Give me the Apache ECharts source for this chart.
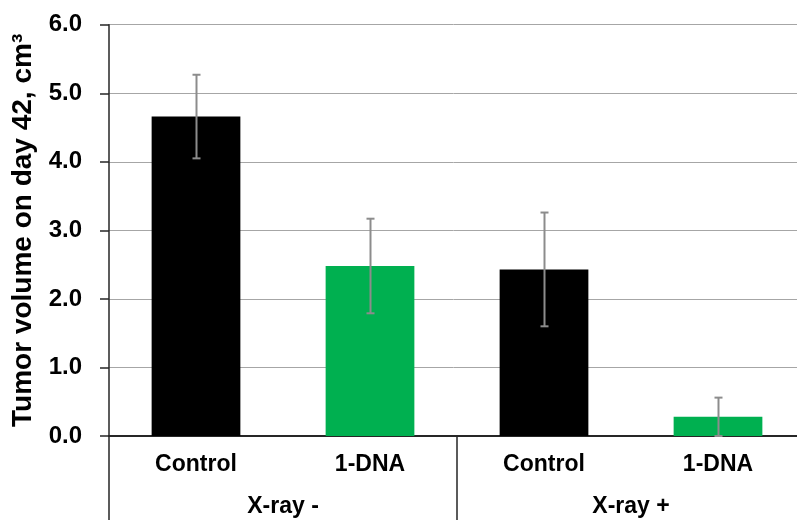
<!DOCTYPE html>
<html><head><meta charset="utf-8">
<script src="https://cdn.jsdelivr.net/npm/echarts@6/dist/echarts.min.js"></script>
<style>html,body{margin:0;padding:0;background:#fff}#c{width:797px;height:520px}</style>
</head><body><div id="c"></div>
<script>
const categories = ['Control', '1-DNA', 'Control', '1-DNA'];
const groups = ['X-ray -', 'X-ray +'];
const values = [4.66, 2.48, 2.43, 0.28];
const errors = [0.61, 0.69, 0.83, 0.28];
const colors = ['#000000', '#00B050', '#000000', '#00B050'];
const yTicks = [0, 1, 2, 3, 4, 5, 6];

const FONT = 'Liberation Sans';
const chart = echarts.init(document.getElementById('c'));
chart.setOption({
  animation: false,
  grid: { left: 109, width: 696, top: 24.7, height: 411.3, containLabel: false, outerBoundsMode: 'none' },
  xAxis: [{
    type: 'category', data: categories, position: 'bottom',
    axisLine: { lineStyle: { color: '#262626', width: 2 } },
    axisTick: { show: false },
    axisLabel: { margin: 17, color: '#000', fontFamily: FONT, fontWeight: 'bold', fontSize: 23 }
  }, {
    type: 'category', data: groups, position: 'bottom',
    axisLine: { show: false },
    axisTick: { show: true, length: 84, lineStyle: { color: '#262626', width: 1.5 } },
    axisLabel: { margin: 59, color: '#000', fontFamily: FONT, fontWeight: 'bold', fontSize: 23 }
  }],
  yAxis: {
    type: 'value', min: 0, max: 6, interval: 1,
    name: 'Tumor volume on day 42, cm\u00B3', nameLocation: 'middle', nameGap: 66, nameRotate: 90,
    nameTextStyle: { color: '#000', fontFamily: FONT, fontWeight: 'bold', fontSize: 28 },
    axisLine: { show: true, lineStyle: { color: '#262626', width: 1.5 } },
    axisTick: { show: true, length: 9, lineStyle: { color: '#262626', width: 1.5 } },
    axisLabel: { margin: 27, color: '#000', fontFamily: FONT, fontWeight: 'bold', fontSize: 24,
      formatter: v => v.toFixed(1) },
    splitLine: { lineStyle: { color: '#a6a6a6', width: 1 } }
  },
  series: [{
    type: 'bar', xAxisIndex: 0, barWidth: '51%',
    data: values.map((v, i) => ({ value: v, itemStyle: { color: colors[i] } }))
  }, {
    type: 'custom', xAxisIndex: 0, z: 5,
    data: values.map((v, i) => [i, v - errors[i], v + errors[i]]),
    renderItem: function (params, api) {
      const lo = api.coord([api.value(0), api.value(1)]);
      const hi = api.coord([api.value(0), api.value(2)]);
      const x = Math.round(lo[0]) + 0.5, cap = 4;
      const st = { stroke: '#8c8c8c', lineWidth: 2 };
      return { type: 'group', children: [
        { type: 'line', shape: { x1: x, y1: lo[1], x2: x, y2: hi[1] }, style: st },
        { type: 'line', shape: { x1: x - cap, y1: hi[1], x2: x + cap, y2: hi[1] }, style: st },
        { type: 'line', shape: { x1: x - cap, y1: lo[1], x2: x + cap, y2: lo[1] }, style: st }
      ]};
    }
  }]
});
</script></body></html>
